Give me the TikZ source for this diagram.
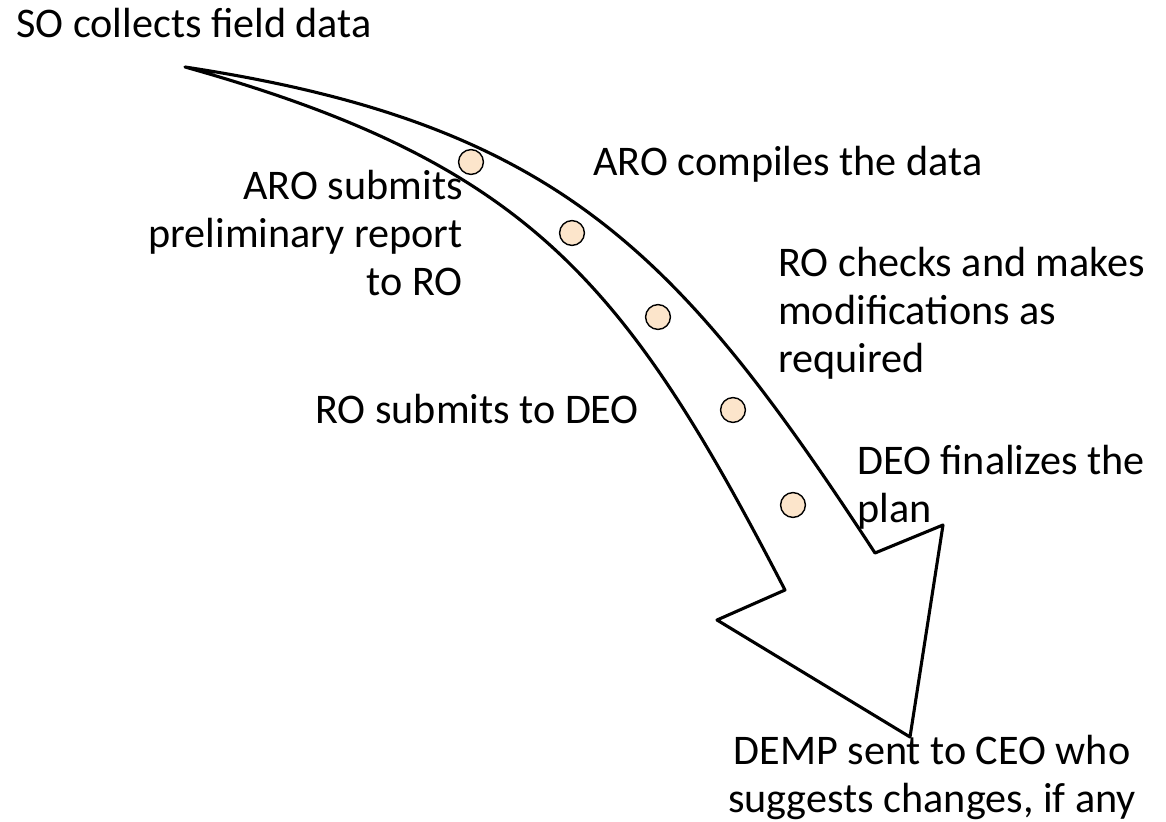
\documentclass[tikz,border=0pt]{standalone}
\usepackage{xcolor}
\usepackage{fontspec}
\setmainfont{Carlito}
\usepackage{tikz}
\usetikzlibrary{positioning}

\definecolor{peach}{HTML}{FCE5CB}

\begin{document}
\begin{tikzpicture}[x=0.025cm, y=-0.025cm,
  stage/.style={font=\fontsize{30}{34}\selectfont, inner sep=0pt},
  stopdot/.style={circle, draw, line width=1pt, fill=peach,
                  minimum size=0.62cm, inner sep=0pt}
]
\useasboundingbox (0,0) rectangle (1166,822);
% curved arrow
\coordinate (tail)   at (185,67);
\coordinate (innerR) at (875,553);
\coordinate (barbR)  at (943,525);
\coordinate (tip)    at (910,737);
\coordinate (barbL)  at (717,620);
\coordinate (innerL) at (785,590);
\draw[line width=2.2pt, line join=round, fill=white]
  (tail) .. controls (561,124) and (680,255) .. (innerR)
  -- (barbR) -- (tip) -- (barbL) -- (innerL)
  .. controls (626,283) and (531,164) .. (tail) -- cycle;
% stops along the arrow
\foreach \x/\y [count=\i] in {471/162, 572/233, 658/317, 733/410, 793/505}
  \node[stopdot] (d\i) at (\x,\y) {};
% labels
\node[stage, anchor=base west] (so) at (16,37) {SO collects field data};
\node[stage, anchor=base east, align=right] (aro1) at (463,295)
  {ARO submits\\preliminary report\\to RO};
\node[stage, anchor=base west] (aro2) at (593,175) {ARO compiles the data};
\node[stage, anchor=base west, align=left] (ro1) at (778,372)
  {RO checks and makes\\modifications as\\required};
\node[stage, anchor=base west] (ro2) at (315,423) {RO submits to DEO};
\node[stage, anchor=base west, align=left] (deo) at (857,522)
  {DEO finalizes the\\plan};
\node[stage, anchor=base, align=center] (ceo) at (932,812)
  {DEMP sent to CEO who\\suggests changes, if any};
\end{tikzpicture}
\end{document}
